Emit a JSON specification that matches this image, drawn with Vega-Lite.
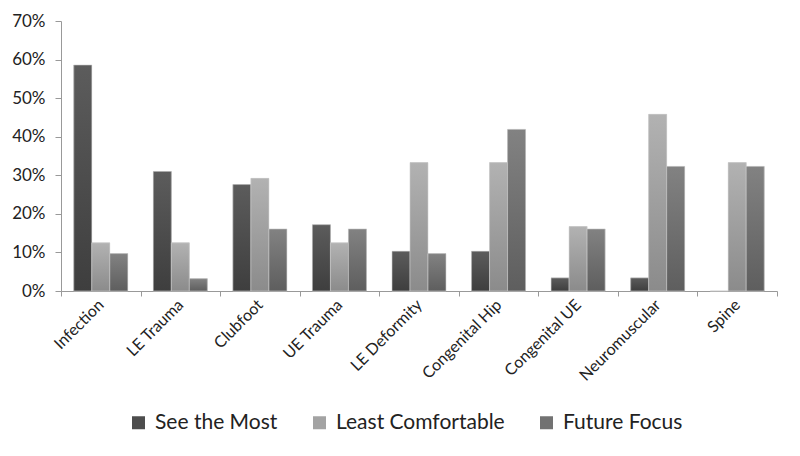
{
  "$schema": "https://vega.github.io/schema/vega-lite/v6.json",
  "width": 716,
  "height": 270,
  "autosize": {"type": "none"},
  "padding": {"left": 61, "top": 21, "right": 23, "bottom": 165},
  "background": "white",
  "config": {
    "font": "Lato",
    "view": {"stroke": null}
  },
  "data": {
    "values": [
      {"cat": "Infection", "series": "See the Most", "v": 0.586},
      {"cat": "Infection", "series": "Least Comfortable", "v": 0.125},
      {"cat": "Infection", "series": "Future Focus", "v": 0.097},
      {"cat": "LE Trauma", "series": "See the Most", "v": 0.310},
      {"cat": "LE Trauma", "series": "Least Comfortable", "v": 0.125},
      {"cat": "LE Trauma", "series": "Future Focus", "v": 0.032},
      {"cat": "Clubfoot", "series": "See the Most", "v": 0.276},
      {"cat": "Clubfoot", "series": "Least Comfortable", "v": 0.292},
      {"cat": "Clubfoot", "series": "Future Focus", "v": 0.161},
      {"cat": "UE Trauma", "series": "See the Most", "v": 0.172},
      {"cat": "UE Trauma", "series": "Least Comfortable", "v": 0.125},
      {"cat": "UE Trauma", "series": "Future Focus", "v": 0.161},
      {"cat": "LE Deformity", "series": "See the Most", "v": 0.103},
      {"cat": "LE Deformity", "series": "Least Comfortable", "v": 0.333},
      {"cat": "LE Deformity", "series": "Future Focus", "v": 0.097},
      {"cat": "Congenital Hip", "series": "See the Most", "v": 0.103},
      {"cat": "Congenital Hip", "series": "Least Comfortable", "v": 0.333},
      {"cat": "Congenital Hip", "series": "Future Focus", "v": 0.419},
      {"cat": "Congenital UE", "series": "See the Most", "v": 0.034},
      {"cat": "Congenital UE", "series": "Least Comfortable", "v": 0.167},
      {"cat": "Congenital UE", "series": "Future Focus", "v": 0.161},
      {"cat": "Neuromuscular", "series": "See the Most", "v": 0.034},
      {"cat": "Neuromuscular", "series": "Least Comfortable", "v": 0.458},
      {"cat": "Neuromuscular", "series": "Future Focus", "v": 0.323},
      {"cat": "Spine", "series": "See the Most", "v": 0.0},
      {"cat": "Spine", "series": "Least Comfortable", "v": 0.333},
      {"cat": "Spine", "series": "Future Focus", "v": 0.323}
    ]
  },
  "encoding": {
    "x": {
      "field": "cat",
      "type": "nominal",
      "sort": null,
      "scale": {"paddingInner": 0, "paddingOuter": 0},
      "axis": {
        "title": null,
        "labelAngle": -45,
        "labelAlign": "right",
        "labelBaseline": "middle",
        "labelFontSize": 16,
        "labelColor": "#222",
        "labelPadding": 6,
        "labelDx": 3,
        "tickBand": "extent",
        "tickSize": 5,
        "tickColor": "#999",
        "domainColor": "#999",
        "grid": false
      }
    },
    "xOffset": {
      "field": "series",
      "type": "nominal",
      "sort": ["See the Most", "Least Comfortable", "Future Focus"],
      "scale": {"paddingInner": 0, "paddingOuter": 0.71}
    },
    "y": {
      "field": "v",
      "type": "quantitative",
      "scale": {"domain": [0, 0.7]},
      "axis": {
        "title": null,
        "format": ".0%",
        "values": [0, 0.1, 0.2, 0.3, 0.4, 0.5, 0.6, 0.7],
        "labelFontSize": 17,
        "labelColor": "#222",
        "tickSize": 6,
        "tickColor": "#999",
        "domainColor": "#999",
        "grid": false,
        "labelPadding": 10
      }
    }
  },
  "layer": [
    {
      "mark": {"type": "bar"},
      "encoding": {
        "color": {
          "field": "series",
          "type": "nominal",
          "sort": ["See the Most", "Least Comfortable", "Future Focus"],
          "scale": {
            "domain": ["See the Most", "Least Comfortable", "Future Focus"],
            "range": ["#4d4d4d", "#a3a3a3", "#727272"]
          },
          "legend": {
            "title": null,
            "orient": "none",
            "legendX": 67,
            "legendY": 391,
            "direction": "horizontal",
            "symbolType": "square",
            "symbolSize": 169,
            "symbolStrokeWidth": 0,
            "labelFontSize": 21,
            "labelColor": "#222",
            "labelLimit": 300,
            "columnPadding": 31,
            "labelOffset": 6
          }
        }
      }
    },
    {
      "mark": {"type": "bar", "stroke": "#cfcfcf", "strokeWidth": 0.6},
      "encoding": {
        "color": {
          "condition": [
            {
              "test": "datum.series === 'See the Most'",
              "value": {
                "gradient": "linear", "x1": 0, "y1": 0, "x2": 0, "y2": 1,
                "stops": [{"offset": 0, "color": "#5c5c5c"}, {"offset": 1, "color": "#3e3e3e"}]
              }
            },
            {
              "test": "datum.series === 'Least Comfortable'",
              "value": {
                "gradient": "linear", "x1": 0, "y1": 0, "x2": 0, "y2": 1,
                "stops": [{"offset": 0, "color": "#b2b2b2"}, {"offset": 1, "color": "#8b8b8b"}]
              }
            }
          ],
          "value": {
            "gradient": "linear", "x1": 0, "y1": 0, "x2": 0, "y2": 1,
            "stops": [{"offset": 0, "color": "#828282"}, {"offset": 1, "color": "#5e5e5e"}]
          }
        }
      }
    }
  ]
}
